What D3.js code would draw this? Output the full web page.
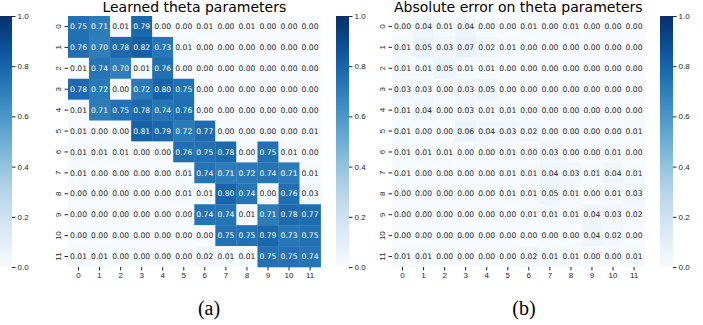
<!DOCTYPE html>
<html>
<head>
<meta charset="utf-8">
<script src="https://cdn.jsdelivr.net/npm/d3@7"></script>
<style>
  body { margin: 0; background: #fff; }
  svg { display: block; font-family: "DejaVu Sans", sans-serif; }
  .tick text { fill: #262626; }
  .tick line { stroke: #262626; }
</style>
</head>
<body>
<div id="chart"></div>
<script>
// row / column labels of the theta matrix
const rowLabels = d3.range(12).map(String);
const colLabels = d3.range(12).map(String);
const colorbarTicks = [0, 0.2, 0.4, 0.6, 0.8, 1.0];

// learned theta values
const learned = [
  [0.75, 0.71, 0.01, 0.79, 0.00, 0.00, 0.01, 0.00, 0.01, 0.00, 0.00, 0.00],
  [0.76, 0.70, 0.78, 0.82, 0.73, 0.01, 0.00, 0.00, 0.00, 0.00, 0.00, 0.00],
  [0.01, 0.74, 0.70, 0.01, 0.76, 0.00, 0.00, 0.00, 0.00, 0.00, 0.00, 0.00],
  [0.78, 0.72, 0.00, 0.72, 0.80, 0.75, 0.00, 0.00, 0.00, 0.00, 0.00, 0.00],
  [0.01, 0.71, 0.75, 0.78, 0.74, 0.76, 0.00, 0.00, 0.00, 0.00, 0.00, 0.00],
  [0.01, 0.00, 0.00, 0.81, 0.79, 0.72, 0.77, 0.00, 0.00, 0.00, 0.00, 0.01],
  [0.01, 0.01, 0.01, 0.00, 0.00, 0.76, 0.75, 0.78, 0.00, 0.75, 0.01, 0.00],
  [0.01, 0.00, 0.00, 0.00, 0.00, 0.01, 0.74, 0.71, 0.72, 0.74, 0.71, 0.01],
  [0.00, 0.00, 0.00, 0.00, 0.00, 0.01, 0.01, 0.80, 0.74, 0.00, 0.76, 0.03],
  [0.00, 0.00, 0.00, 0.00, 0.00, 0.00, 0.74, 0.74, 0.01, 0.71, 0.78, 0.77],
  [0.00, 0.00, 0.00, 0.00, 0.00, 0.00, 0.00, 0.75, 0.75, 0.79, 0.73, 0.75],
  [0.01, 0.01, 0.00, 0.00, 0.00, 0.00, 0.02, 0.01, 0.01, 0.75, 0.75, 0.74]
];

// absolute error on theta (panel b)
const absError = [
  [0.00, 0.04, 0.01, 0.04, 0.00, 0.00, 0.01, 0.00, 0.01, 0.00, 0.00, 0.00],
  [0.01, 0.05, 0.03, 0.07, 0.02, 0.01, 0.00, 0.00, 0.00, 0.00, 0.00, 0.00],
  [0.01, 0.01, 0.05, 0.01, 0.01, 0.00, 0.00, 0.00, 0.00, 0.00, 0.00, 0.00],
  [0.03, 0.03, 0.00, 0.03, 0.05, 0.00, 0.00, 0.00, 0.00, 0.00, 0.00, 0.00],
  [0.01, 0.04, 0.00, 0.03, 0.01, 0.01, 0.00, 0.00, 0.00, 0.00, 0.00, 0.00],
  [0.01, 0.00, 0.00, 0.06, 0.04, 0.03, 0.02, 0.00, 0.00, 0.00, 0.00, 0.01],
  [0.01, 0.01, 0.01, 0.00, 0.00, 0.01, 0.00, 0.03, 0.00, 0.00, 0.01, 0.00],
  [0.01, 0.00, 0.00, 0.00, 0.00, 0.01, 0.01, 0.04, 0.03, 0.01, 0.04, 0.01],
  [0.00, 0.00, 0.00, 0.00, 0.00, 0.01, 0.01, 0.05, 0.01, 0.00, 0.01, 0.03],
  [0.00, 0.00, 0.00, 0.00, 0.00, 0.00, 0.01, 0.01, 0.01, 0.04, 0.03, 0.02],
  [0.00, 0.00, 0.00, 0.00, 0.00, 0.00, 0.00, 0.00, 0.00, 0.04, 0.02, 0.00],
  [0.01, 0.01, 0.00, 0.00, 0.00, 0.00, 0.02, 0.01, 0.01, 0.00, 0.00, 0.01]
];

const panels = [
  { title: 'Learned theta parameters', caption: '(a)', data: learned, left: 68, cbarLeft: 336, capX: 209 },
  { title: 'Absolute error on theta parameters', caption: '(b)', data: absError, left: 392, cbarLeft: 660, capX: 524 }
];

const width = 703, height = 325;
const plotTop = 16, plotBottom = 267, cellW = 21.05;
const cbarW = 13;

const svg = d3.select('#chart').append('svg')
  .attr('width', width)
  .attr('height', height);

const color = d3.scaleSequential(d3.interpolateBlues).domain([0, 1]);

// gradient shared by the colorbars
const grad = svg.append('defs').append('linearGradient')
  .attr('id', 'blues')
  .attr('x1', 0).attr('y1', 1).attr('x2', 0).attr('y2', 0);
d3.range(0, 1.0001, 0.05).forEach(t => {
  grad.append('stop').attr('offset', t).attr('stop-color', color(t));
});

const cbarY = d3.scaleLinear().domain([0, 1]).range([plotBottom, plotTop]);

function drawColorbar(x) {
  const g = svg.append('g').attr('transform', `translate(${x},0)`);
  g.append('rect')
    .attr('x', 0).attr('y', plotTop)
    .attr('width', cbarW).attr('height', plotBottom - plotTop)
    .attr('fill', 'url(#blues)');
  g.append('g')
    .attr('transform', `translate(${cbarW},0)`)
    .call(d3.axisRight(cbarY).tickValues(colorbarTicks).tickFormat(d3.format('.1f')).tickSize(3.5).tickPadding(2))
    .call(a => a.select('.domain').remove())
    .selectAll('text').style('font-size', '8px');
}

// left colorbar sits partly outside the page, like in the original
drawColorbar(-1);

panels.forEach(p => {
  const w = cellW * 12;
  const x = d3.scaleBand().domain(colLabels).range([p.left, p.left + w]);
  const y = d3.scaleBand().domain(rowLabels).range([plotTop, plotBottom]);

  const cells = [];
  p.data.forEach((row, i) => row.forEach((v, j) => cells.push({ r: rowLabels[i], c: colLabels[j], v })));

  const g = svg.append('g');
  g.selectAll('rect').data(cells).enter().append('rect')
    .attr('x', d => x(d.c))
    .attr('y', d => y(d.r))
    .attr('width', x.bandwidth() + 0.3)
    .attr('height', y.bandwidth() + 0.3)
    .attr('fill', d => color(d.v));

  g.selectAll('text.annot').data(cells).enter().append('text')
    .attr('class', 'annot')
    .attr('x', d => x(d.c) + x.bandwidth() / 2)
    .attr('y', d => y(d.r) + y.bandwidth() / 2)
    .attr('text-anchor', 'middle')
    .attr('dy', '0.35em')
    .style('font-size', '7.6px')
    .attr('fill', d => d.v > 0.4 ? '#ffffff' : '#262626')
    .text(d => d.v.toFixed(2));

  svg.append('g')
    .attr('transform', `translate(0,${plotBottom})`)
    .call(d3.axisBottom(x).tickSize(3.5).tickPadding(2))
    .call(a => a.select('.domain').remove())
    .selectAll('text').style('font-size', '8px');

  const yAxis = svg.append('g')
    .attr('transform', `translate(${p.left},0)`)
    .call(d3.axisLeft(y).tickSize(3.5).tickPadding(2))
    .call(a => a.select('.domain').remove());
  yAxis.selectAll('text')
    .style('font-size', '8px')
    .attr('text-anchor', 'middle')
    .attr('x', null)
    .attr('dy', null)
    .attr('transform', 'translate(-10,0) rotate(-90)')
    .attr('dominant-baseline', 'central');

  svg.append('text')
    .attr('x', p.left + w / 2)
    .attr('y', 12)
    .attr('text-anchor', 'middle')
    .style('font-size', '14px')
    .attr('fill', '#000')
    .text(p.title);

  svg.append('text')
    .attr('x', p.capX)
    .attr('y', 315)
    .attr('text-anchor', 'middle')
    .style('font-family', '"Liberation Serif", serif')
    .style('font-size', '20px')
    .attr('fill', '#000')
    .text(p.caption);

  drawColorbar(p.cbarLeft);
});
</script>
</body>
</html>
